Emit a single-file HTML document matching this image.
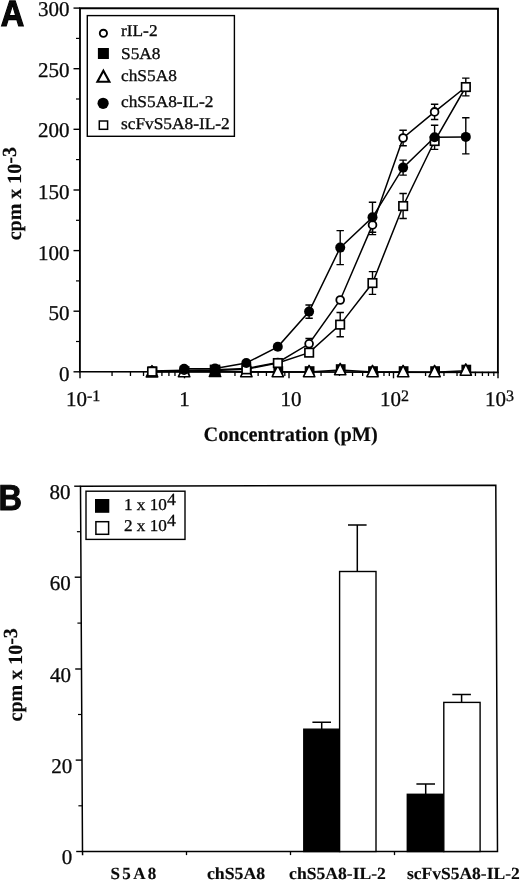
<!DOCTYPE html>
<html><head><meta charset="utf-8"><title>Figure</title>
<style>html,body{margin:0;padding:0;background:#fff;}svg{display:block;filter:grayscale(1);}text{font-family:"Liberation Serif",serif;fill:#0a0a0a;text-rendering:geometricPrecision;stroke:#0a0a0a;stroke-width:0.3px;}.sans{font-family:"Liberation Sans",sans-serif;font-weight:bold;}.b{font-weight:bold;stroke-width:0.15px;}</style></head><body>
<svg width="520" height="881" viewBox="0 0 520 881">
<rect x="0" y="0" width="520" height="881" fill="#fff"/>
<g id="panelA">
<text class="sans" transform="translate(0.7,25.9) scale(0.89,1)" font-size="36.5" text-anchor="start" style="stroke:#000;stroke-width:1.2px;stroke-linejoin:miter">A</text>
<path d="M80 8.1L498 8.75L497.9 372.3L79.9 371.6Z" fill="none" stroke="#000" stroke-width="1.85" stroke-linejoin="miter"/>
<line x1="73.5" y1="371.8" x2="80.0" y2="371.8" stroke="#000" stroke-width="1.4"/>
<text transform="translate(69.5,380.6) scale(1.0,1)" font-size="21" text-anchor="end" >0</text>
<line x1="73.5" y1="311.2" x2="80.0" y2="311.2" stroke="#000" stroke-width="1.4"/>
<text transform="translate(69.5,320.0) scale(1.0,1)" font-size="21" text-anchor="end" >50</text>
<line x1="73.5" y1="250.6" x2="80.0" y2="250.6" stroke="#000" stroke-width="1.4"/>
<text transform="translate(69.5,259.9) scale(1.0,1)" font-size="21" text-anchor="end" >100</text>
<line x1="73.5" y1="190.0" x2="80.0" y2="190.0" stroke="#000" stroke-width="1.4"/>
<text transform="translate(69.5,198.5) scale(1.0,1)" font-size="21" text-anchor="end" >150</text>
<line x1="73.5" y1="129.3" x2="80.0" y2="129.3" stroke="#000" stroke-width="1.4"/>
<text transform="translate(69.5,137.4) scale(1.0,1)" font-size="21" text-anchor="end" >200</text>
<line x1="73.5" y1="68.7" x2="80.0" y2="68.7" stroke="#000" stroke-width="1.4"/>
<text transform="translate(69.5,76.6) scale(1.0,1)" font-size="21" text-anchor="end" >250</text>
<line x1="73.5" y1="8.1" x2="80.0" y2="8.1" stroke="#000" stroke-width="1.4"/>
<text transform="translate(69.5,16.4) scale(1.0,1)" font-size="21" text-anchor="end" >300</text>
<line x1="76.0" y1="341.5" x2="80.0" y2="341.5" stroke="#000" stroke-width="1.2"/>
<line x1="76.0" y1="280.9" x2="80.0" y2="280.9" stroke="#000" stroke-width="1.2"/>
<line x1="76.0" y1="220.3" x2="80.0" y2="220.3" stroke="#000" stroke-width="1.2"/>
<line x1="76.0" y1="159.6" x2="80.0" y2="159.6" stroke="#000" stroke-width="1.2"/>
<line x1="76.0" y1="99.0" x2="80.0" y2="99.0" stroke="#000" stroke-width="1.2"/>
<line x1="76.0" y1="38.4" x2="80.0" y2="38.4" stroke="#000" stroke-width="1.2"/>
<line x1="80.0" y1="371.8" x2="80.0" y2="378.3" stroke="#000" stroke-width="1.4"/>
<line x1="112.06" y1="371.8" x2="112.06" y2="376.0" stroke="#000" stroke-width="1.3"/>
<line x1="130.46" y1="371.8" x2="130.46" y2="376.0" stroke="#000" stroke-width="1.3"/>
<line x1="143.52" y1="371.8" x2="143.52" y2="376.0" stroke="#000" stroke-width="1.3"/>
<line x1="153.64" y1="371.8" x2="153.64" y2="376.0" stroke="#000" stroke-width="1.3"/>
<line x1="161.92" y1="371.8" x2="161.92" y2="376.0" stroke="#000" stroke-width="1.3"/>
<line x1="168.91" y1="371.8" x2="168.91" y2="376.0" stroke="#000" stroke-width="1.3"/>
<line x1="174.97" y1="371.8" x2="174.97" y2="376.0" stroke="#000" stroke-width="1.3"/>
<line x1="180.32" y1="371.8" x2="180.32" y2="376.0" stroke="#000" stroke-width="1.3"/>
<line x1="184.5" y1="371.8" x2="184.5" y2="378.3" stroke="#000" stroke-width="1.4"/>
<line x1="216.56" y1="371.8" x2="216.56" y2="376.0" stroke="#000" stroke-width="1.3"/>
<line x1="234.96" y1="371.8" x2="234.96" y2="376.0" stroke="#000" stroke-width="1.3"/>
<line x1="248.02" y1="371.8" x2="248.02" y2="376.0" stroke="#000" stroke-width="1.3"/>
<line x1="258.14" y1="371.8" x2="258.14" y2="376.0" stroke="#000" stroke-width="1.3"/>
<line x1="266.42" y1="371.8" x2="266.42" y2="376.0" stroke="#000" stroke-width="1.3"/>
<line x1="273.41" y1="371.8" x2="273.41" y2="376.0" stroke="#000" stroke-width="1.3"/>
<line x1="279.47" y1="371.8" x2="279.47" y2="376.0" stroke="#000" stroke-width="1.3"/>
<line x1="284.82" y1="371.8" x2="284.82" y2="376.0" stroke="#000" stroke-width="1.3"/>
<line x1="289.0" y1="371.8" x2="289.0" y2="378.3" stroke="#000" stroke-width="1.4"/>
<line x1="321.06" y1="371.8" x2="321.06" y2="376.0" stroke="#000" stroke-width="1.3"/>
<line x1="339.46" y1="371.8" x2="339.46" y2="376.0" stroke="#000" stroke-width="1.3"/>
<line x1="352.52" y1="371.8" x2="352.52" y2="376.0" stroke="#000" stroke-width="1.3"/>
<line x1="362.64" y1="371.8" x2="362.64" y2="376.0" stroke="#000" stroke-width="1.3"/>
<line x1="370.92" y1="371.8" x2="370.92" y2="376.0" stroke="#000" stroke-width="1.3"/>
<line x1="377.91" y1="371.8" x2="377.91" y2="376.0" stroke="#000" stroke-width="1.3"/>
<line x1="383.97" y1="371.8" x2="383.97" y2="376.0" stroke="#000" stroke-width="1.3"/>
<line x1="389.32" y1="371.8" x2="389.32" y2="376.0" stroke="#000" stroke-width="1.3"/>
<line x1="393.5" y1="371.8" x2="393.5" y2="378.3" stroke="#000" stroke-width="1.4"/>
<line x1="425.56" y1="371.8" x2="425.56" y2="376.0" stroke="#000" stroke-width="1.3"/>
<line x1="443.96" y1="371.8" x2="443.96" y2="376.0" stroke="#000" stroke-width="1.3"/>
<line x1="457.02" y1="371.8" x2="457.02" y2="376.0" stroke="#000" stroke-width="1.3"/>
<line x1="467.14" y1="371.8" x2="467.14" y2="376.0" stroke="#000" stroke-width="1.3"/>
<line x1="475.42" y1="371.8" x2="475.42" y2="376.0" stroke="#000" stroke-width="1.3"/>
<line x1="482.41" y1="371.8" x2="482.41" y2="376.0" stroke="#000" stroke-width="1.3"/>
<line x1="488.47" y1="371.8" x2="488.47" y2="376.0" stroke="#000" stroke-width="1.3"/>
<line x1="493.82" y1="371.8" x2="493.82" y2="376.0" stroke="#000" stroke-width="1.3"/>
<line x1="498.0" y1="371.8" x2="498.0" y2="378.3" stroke="#000" stroke-width="1.4"/>
<text x="66" y="406.1" font-size="21">10<tspan dy="-5" font-size="16">-1</tspan></text>
<text transform="translate(184.5,406.1) scale(1.0,1)" font-size="21" text-anchor="middle" >1</text>
<text transform="translate(291.0,406.1) scale(1.0,1)" font-size="21" text-anchor="middle" >10</text>
<text x="380" y="406.1" font-size="21">10<tspan dy="-5" font-size="16">2</tspan></text>
<text x="485" y="406.1" font-size="21">10<tspan dy="-5" font-size="16">3</tspan></text>
<text class="b" transform="translate(290.6,440.6) scale(0.99,1)" font-size="20.5" text-anchor="middle" >Concentration (pM)</text>
<text class="b" transform="translate(21,240.3) rotate(-90)" font-size="20">cpm x 10<tspan dy="-5.4">-3</tspan></text>
<polyline points="152.0,371.7 184.1,371.8 215.0,371.8 246.3,371.9 277.8,371.9 309.1,372.0 340.2,370.0 372.5,372.1 403.1,372.1 434.6,372.2 465.8,370.7" fill="none" stroke="#000" stroke-width="1.5"/>
<polyline points="152.0,371.0 184.1,370.2 215.0,369.8 246.3,368.5 277.8,362.5 309.1,343.8 340.2,300.0 372.5,224.9 403.1,138.0 434.6,111.9 465.8,87.0" fill="none" stroke="#000" stroke-width="1.5"/>
<polyline points="152.0,371.7 184.1,370.9 215.0,370.6 246.3,369.3 277.8,363.0 309.1,352.6 340.2,324.6 372.5,283.0 403.1,206.0 434.6,141.0 465.8,87.0" fill="none" stroke="#000" stroke-width="1.5"/>
<polyline points="184.1,368.7 215.0,368.5 246.3,363.0 277.8,346.8 309.1,311.6 340.2,247.6 372.5,217.3 403.1,167.6 434.6,137.3 465.8,136.9" fill="none" stroke="#000" stroke-width="1.5"/>
<path d="M309.1 338.5V349.1M305.4 338.5H312.8M305.4 349.1H312.8" stroke="#000" stroke-width="1.4" fill="none"/>
<path d="M372.5 215.2V234.6M368.8 215.2H376.2M368.8 234.6H376.2" stroke="#000" stroke-width="1.4" fill="none"/>
<path d="M403.1 130.3V145.7M399.4 130.3H406.8M399.4 145.7H406.8" stroke="#000" stroke-width="1.4" fill="none"/>
<path d="M434.6 104.3V119.5M430.9 104.3H438.3M430.9 119.5H438.3" stroke="#000" stroke-width="1.4" fill="none"/>
<path d="M340.2 312.5V336.7M336.5 312.5H343.9M336.5 336.7H343.9" stroke="#000" stroke-width="1.4" fill="none"/>
<path d="M372.5 271.6V294.4M368.8 271.6H376.2M368.8 294.4H376.2" stroke="#000" stroke-width="1.4" fill="none"/>
<path d="M403.1 193.5V218.5M399.4 193.5H406.8M399.4 218.5H406.8" stroke="#000" stroke-width="1.4" fill="none"/>
<path d="M465.8 78.1V95.9M462.1 78.1H469.5M462.1 95.9H469.5" stroke="#000" stroke-width="1.4" fill="none"/>
<path d="M309.1 305.0V318.2M305.4 305.0H312.8M305.4 318.2H312.8" stroke="#000" stroke-width="1.4" fill="none"/>
<path d="M340.2 230.6V264.6M336.5 230.6H343.9M336.5 264.6H343.9" stroke="#000" stroke-width="1.4" fill="none"/>
<path d="M372.5 202.3V232.3M368.8 202.3H376.2M368.8 232.3H376.2" stroke="#000" stroke-width="1.4" fill="none"/>
<path d="M403.1 160.1V175.1M399.4 160.1H406.8M399.4 175.1H406.8" stroke="#000" stroke-width="1.4" fill="none"/>
<path d="M434.6 125.2V149.4M430.9 125.2H438.3M430.9 149.4H438.3" stroke="#000" stroke-width="1.4" fill="none"/>
<path d="M465.8 117.7V153.9M462.1 117.7H469.5M462.1 153.9H469.5" stroke="#000" stroke-width="1.4" fill="none"/>
<rect x="147.6" y="366.4" width="9.8" height="9.6" fill="#000"/>
<rect x="179.7" y="366.2" width="9.8" height="9.6" fill="#000"/>
<rect x="210.6" y="366.0" width="9.8" height="9.6" fill="#000"/>
<rect x="241.9" y="366.2" width="9.8" height="9.6" fill="#000"/>
<rect x="273.4" y="366.2" width="9.8" height="9.6" fill="#000"/>
<rect x="304.7" y="366.2" width="9.8" height="9.6" fill="#000"/>
<rect x="335.8" y="364.2" width="9.8" height="9.6" fill="#000"/>
<rect x="368.1" y="366.2" width="9.8" height="9.6" fill="#000"/>
<rect x="398.7" y="366.2" width="9.8" height="9.6" fill="#000"/>
<rect x="430.2" y="366.2" width="9.8" height="9.6" fill="#000"/>
<rect x="461.4" y="364.7" width="9.8" height="9.6" fill="#000"/>
<path d="M152.0 365.6L157.7 376.9H146.3Z" fill="#fff" stroke="#000" stroke-width="1.6" stroke-linejoin="round"/>
<path d="M184.1 365.4L189.8 376.7H178.4Z" fill="#fff" stroke="#000" stroke-width="1.6" stroke-linejoin="round"/>
<path d="M215.0 365.2L220.7 376.5H209.3Z" fill="#fff" stroke="#000" stroke-width="1.6" stroke-linejoin="round"/>
<path d="M246.3 365.4L252.0 376.7H240.7Z" fill="#fff" stroke="#000" stroke-width="1.6" stroke-linejoin="round"/>
<path d="M277.8 365.4L283.4 376.7H272.2Z" fill="#fff" stroke="#000" stroke-width="1.6" stroke-linejoin="round"/>
<path d="M309.1 365.4L314.8 376.7H303.5Z" fill="#fff" stroke="#000" stroke-width="1.6" stroke-linejoin="round"/>
<path d="M340.2 363.4L345.8 374.7H334.6Z" fill="#fff" stroke="#000" stroke-width="1.6" stroke-linejoin="round"/>
<path d="M372.5 365.4L378.1 376.7H366.9Z" fill="#fff" stroke="#000" stroke-width="1.6" stroke-linejoin="round"/>
<path d="M403.1 365.4L408.8 376.7H397.5Z" fill="#fff" stroke="#000" stroke-width="1.6" stroke-linejoin="round"/>
<path d="M434.6 365.4L440.2 376.7H429.0Z" fill="#fff" stroke="#000" stroke-width="1.6" stroke-linejoin="round"/>
<path d="M465.8 363.9L471.4 375.2H460.2Z" fill="#fff" stroke="#000" stroke-width="1.6" stroke-linejoin="round"/>
<circle cx="152.0" cy="371.0" r="3.9" fill="#fff" stroke="#000" stroke-width="1.8"/>
<circle cx="184.1" cy="370.2" r="3.9" fill="#fff" stroke="#000" stroke-width="1.8"/>
<circle cx="215.0" cy="369.8" r="3.9" fill="#fff" stroke="#000" stroke-width="1.8"/>
<circle cx="246.3" cy="368.5" r="3.9" fill="#fff" stroke="#000" stroke-width="1.8"/>
<circle cx="277.8" cy="362.5" r="3.9" fill="#fff" stroke="#000" stroke-width="1.8"/>
<circle cx="309.1" cy="343.8" r="3.9" fill="#fff" stroke="#000" stroke-width="1.8"/>
<circle cx="340.2" cy="300.0" r="3.9" fill="#fff" stroke="#000" stroke-width="1.8"/>
<circle cx="372.5" cy="224.9" r="3.9" fill="#fff" stroke="#000" stroke-width="1.8"/>
<circle cx="403.1" cy="138.0" r="3.9" fill="#fff" stroke="#000" stroke-width="1.8"/>
<circle cx="434.6" cy="111.9" r="3.9" fill="#fff" stroke="#000" stroke-width="1.8"/>
<circle cx="465.8" cy="87.0" r="3.9" fill="#fff" stroke="#000" stroke-width="1.8"/>
<rect x="147.8" y="367.4" width="8.5" height="8.5" fill="#fff" stroke="#000" stroke-width="1.65"/>
<rect x="242.1" y="365.1" width="8.5" height="8.5" fill="#fff" stroke="#000" stroke-width="1.65"/>
<rect x="273.6" y="358.8" width="8.5" height="8.5" fill="#fff" stroke="#000" stroke-width="1.65"/>
<rect x="304.9" y="348.4" width="8.5" height="8.5" fill="#fff" stroke="#000" stroke-width="1.65"/>
<rect x="335.9" y="320.4" width="8.5" height="8.5" fill="#fff" stroke="#000" stroke-width="1.65"/>
<rect x="368.2" y="278.8" width="8.5" height="8.5" fill="#fff" stroke="#000" stroke-width="1.65"/>
<rect x="398.9" y="201.8" width="8.5" height="8.5" fill="#fff" stroke="#000" stroke-width="1.65"/>
<rect x="430.4" y="136.8" width="8.5" height="8.5" fill="#fff" stroke="#000" stroke-width="1.65"/>
<rect x="461.6" y="82.8" width="8.5" height="8.5" fill="#fff" stroke="#000" stroke-width="1.65"/>
<rect x="209.7" y="364.6" width="10.6" height="11.4" fill="#000"/>
<circle cx="184.1" cy="368.7" r="5.0" fill="#000"/>
<circle cx="215.0" cy="368.5" r="5.0" fill="#000"/>
<circle cx="246.3" cy="363.0" r="5.0" fill="#000"/>
<circle cx="277.8" cy="346.8" r="5.0" fill="#000"/>
<circle cx="309.1" cy="311.6" r="5.0" fill="#000"/>
<circle cx="340.2" cy="247.6" r="5.0" fill="#000"/>
<circle cx="372.5" cy="217.3" r="5.0" fill="#000"/>
<circle cx="403.1" cy="167.6" r="5.0" fill="#000"/>
<circle cx="434.6" cy="137.3" r="5.0" fill="#000"/>
<circle cx="465.8" cy="136.9" r="5.0" fill="#000"/>
<rect x="87.3" y="15.6" width="147.1" height="120.7" fill="#fff" stroke="#000" stroke-width="1.4"/>
<circle cx="103.4" cy="33.3" r="3.6" fill="#fff" stroke="#000" stroke-width="1.9"/>
<rect x="97.9" y="48" width="11" height="11" fill="#000"/>
<path d="M103.4 70.8L109.4 81.7H97.4Z" fill="#fff" stroke="#000" stroke-width="2.1"/>
<circle cx="103.10000000000001" cy="103.3" r="5.6" fill="#000"/>
<rect x="99.30000000000001" y="121" width="8.3" height="8.3" fill="#fff" stroke="#000" stroke-width="1.5"/>
<text transform="translate(121,36.4) scale(1.05,1)" font-size="16.5" text-anchor="start" >rIL-2</text>
<text transform="translate(121,58.9) scale(1.05,1)" font-size="16.5" text-anchor="start" >S5A8</text>
<text transform="translate(121,81.4) scale(1.05,1)" font-size="16.5" text-anchor="start" >chS5A8</text>
<text transform="translate(121,107.2) scale(1.05,1)" font-size="16.5" text-anchor="start" >chS5A8-IL-2</text>
<text transform="translate(121,128.8) scale(1.05,1)" font-size="16.5" text-anchor="start" >scFvS5A8-IL-2</text>
</g>
<g id="panelB">
<text class="sans" transform="translate(-1.5,510.2) scale(0.905,1)" font-size="35.9" text-anchor="start" style="stroke:#000;stroke-width:0.9px">B</text>
<path d="M80.5 486.2L495.8 485.3L497.5 851.6L82.5 851.5Z M82.5 851.5L82.6 855.2" fill="none" stroke="#000" stroke-width="1.5" stroke-linejoin="miter"/>
<line x1="76.2" y1="851.5" x2="82.5" y2="851.5" stroke="#000" stroke-width="1.4"/>
<text transform="translate(72.2,863.6) scale(1.0,1)" font-size="21" text-anchor="end" >0</text>
<line x1="75.7" y1="760.1" x2="82.0" y2="760.1" stroke="#000" stroke-width="1.4"/>
<text transform="translate(72.2,773.4) scale(1.0,1)" font-size="21" text-anchor="end" >20</text>
<line x1="75.2" y1="669.0" x2="81.5" y2="669.0" stroke="#000" stroke-width="1.4"/>
<text transform="translate(71.0,681.9) scale(1.0,1)" font-size="21" text-anchor="end" >40</text>
<line x1="74.7" y1="577.2" x2="81.0" y2="577.2" stroke="#000" stroke-width="1.4"/>
<text transform="translate(70.8,590.3) scale(1.0,1)" font-size="21" text-anchor="end" >60</text>
<line x1="74.2" y1="486.2" x2="80.5" y2="486.2" stroke="#000" stroke-width="1.4"/>
<text transform="translate(70.5,498.7) scale(1.0,1)" font-size="21" text-anchor="end" >80</text>
<line x1="78.4" y1="805.8" x2="82.2" y2="805.8" stroke="#000" stroke-width="1.2"/>
<line x1="78.0" y1="714.5" x2="81.8" y2="714.5" stroke="#000" stroke-width="1.2"/>
<line x1="77.4" y1="623.1" x2="81.2" y2="623.1" stroke="#000" stroke-width="1.2"/>
<line x1="76.9" y1="531.7" x2="80.7" y2="531.7" stroke="#000" stroke-width="1.2"/>
<line x1="186.5" y1="851.5" x2="186.5" y2="855.1" stroke="#000" stroke-width="1.3"/>
<line x1="290.5" y1="851.5" x2="290.5" y2="855.1" stroke="#000" stroke-width="1.3"/>
<line x1="394.5" y1="851.5" x2="394.5" y2="855.1" stroke="#000" stroke-width="1.3"/>
<rect x="303.8" y="729.2" width="36.0" height="122.3" fill="#000" stroke="#000" stroke-width="1.4"/>
<path d="M321.7 729.2V722.2M312.4 722.2H331.0" stroke="#000" stroke-width="1.5" fill="none"/>
<rect x="339.6" y="571.5" width="36.39999999999998" height="280.0" fill="#fff" stroke="#000" stroke-width="1.4"/>
<path d="M357.3 571.5V525M348.0 525H366.6" stroke="#000" stroke-width="1.5" fill="none"/>
<rect x="407.3" y="794.3" width="36.5" height="57.2" fill="#000" stroke="#000" stroke-width="1.4"/>
<path d="M425.7 794.3V783.9M416.4 783.9H435.0" stroke="#000" stroke-width="1.5" fill="none"/>
<rect x="443.8" y="702.4" width="36.30000000000001" height="149.1" fill="#fff" stroke="#000" stroke-width="1.4"/>
<path d="M461.6 702.4V694.4M452.3 694.4H470.9" stroke="#000" stroke-width="1.5" fill="none"/>
<rect x="86" y="491.2" width="99" height="48.2" fill="#fff" stroke="#000" stroke-width="1.4"/>
<rect x="95" y="499" width="14.3" height="13.8" fill="#000"/>
<rect x="95.9" y="521.7" width="12.7" height="12.6" fill="#fff" stroke="#000" stroke-width="1.5"/>
<text transform="translate(124,510) scale(1.04,1)" font-size="16.5">1 x 10<tspan dy="-5.2" font-size="17">4</tspan></text>
<text transform="translate(124,531.2) scale(1.04,1)" font-size="16.5">2 x 10<tspan dy="-5.2" font-size="17">4</tspan></text>
<text class="b" transform="translate(134.6,878.8) scale(1.0,1)" font-size="17" text-anchor="middle" letter-spacing="2.4">S5A8</text>
<text class="b" transform="translate(236,878.8) scale(1.045,1)" font-size="17" text-anchor="middle" >chS5A8</text>
<text class="b" transform="translate(337.5,878.8) scale(1.035,1)" font-size="17" text-anchor="middle" >chS5A8-IL-2</text>
<text class="b" transform="translate(463.3,878.8) scale(1.03,1)" font-size="17" text-anchor="middle" >scFvS5A8-IL-2</text>
<text class="b" transform="translate(22.3,721.5) rotate(-90)" font-size="20">cpm x 10<tspan dy="-5.4">-3</tspan></text>
</g>
</svg></body></html>
